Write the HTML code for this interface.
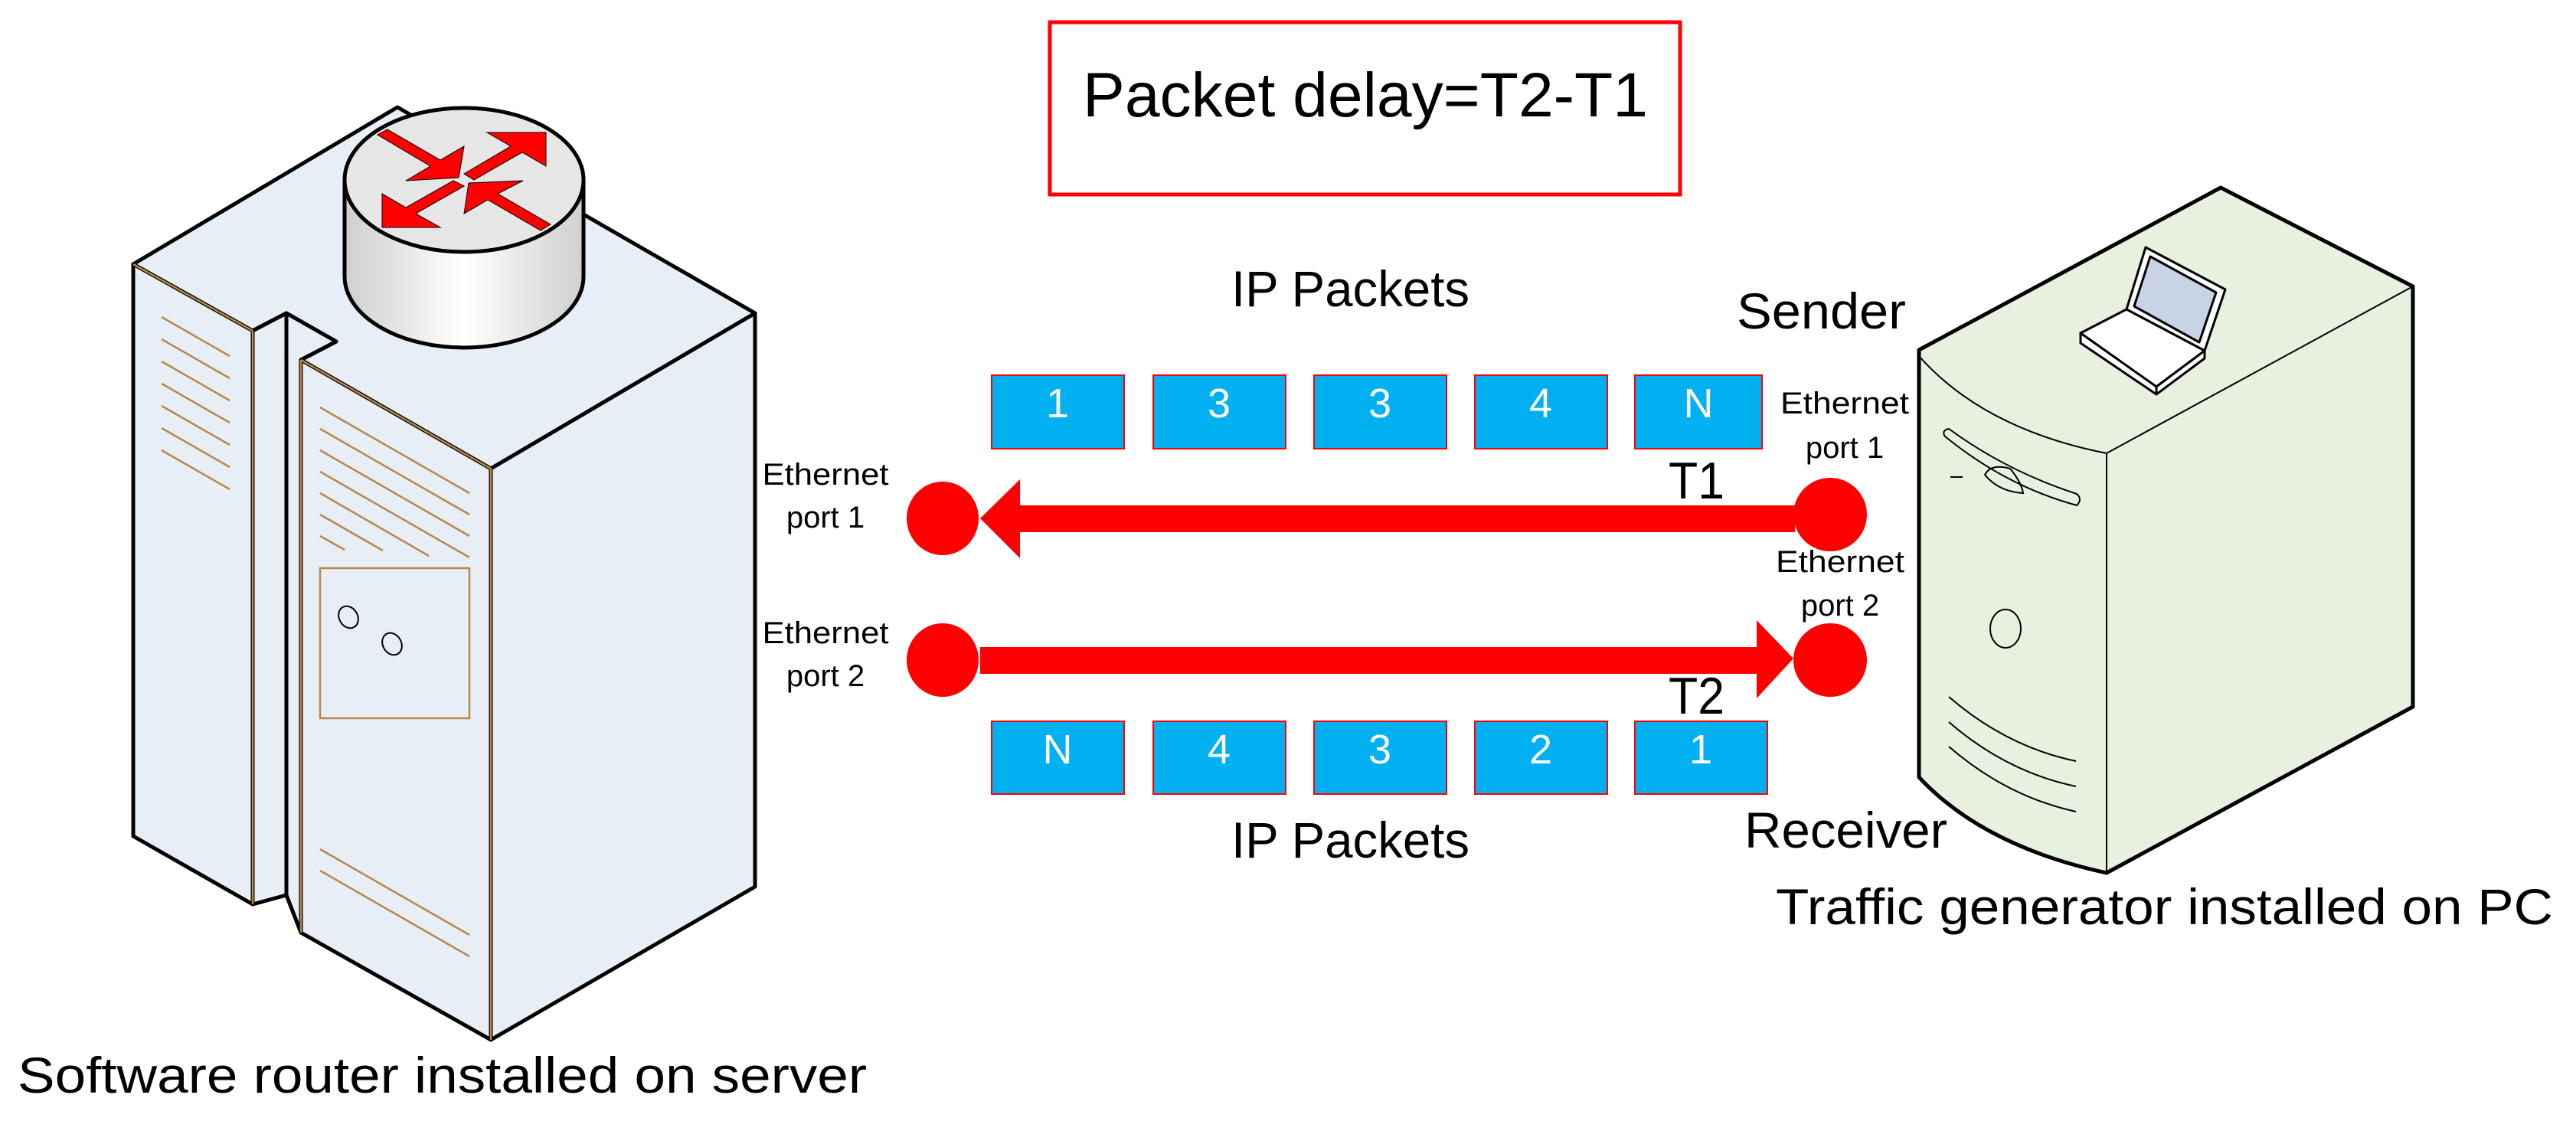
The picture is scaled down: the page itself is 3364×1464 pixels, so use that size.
<!DOCTYPE html>
<html><head><meta charset="utf-8"><style>html,body{margin:0;padding:0;background:#fff}svg{display:block}text{font-family:"Liberation Sans",sans-serif}</style></head><body>
<svg width="3364" height="1464" viewBox="0 0 3364 1464" xmlns="http://www.w3.org/2000/svg">
<defs>
<linearGradient id="cyl" x1="0" x2="1" y1="0" y2="0"><stop offset="0" stop-color="#cfcfcf"/><stop offset="0.5" stop-color="#ffffff"/><stop offset="1" stop-color="#cfcfcf"/></linearGradient>
</defs>
<!-- Server -->
<g stroke="#000" stroke-width="5" stroke-linejoin="round" fill="#e8eef6">
<polygon points="174,345 519,140 986,409 641,612 393,470 439,446 374,409 330,432"/>
<polygon points="174,345 330,432 330,1181 174,1092"/>
<polygon points="330,432 374,409 374,1169 330,1181"/>
<polygon points="374,409 439,446 393,470 393,1218 374,1169"/>
<polygon points="393,470 641,612 641,1358 393,1218"/>
<polygon points="641,612 986,409 986,1158 641,1358"/>
</g>
<g stroke="#b8884a" stroke-width="2.5" fill="none">
<line x1="330" y1="432" x2="330" y2="1181"/><line x1="393" y1="470" x2="393" y2="1218"/><line x1="641" y1="612" x2="641" y2="1358"/>
<line x1="174" y1="345" x2="330" y2="432"/><line x1="393" y1="470" x2="641" y2="612"/>
<line x1="211" y1="414" x2="300" y2="465"/><line x1="211" y1="443" x2="300" y2="494"/><line x1="211" y1="472" x2="300" y2="523"/><line x1="211" y1="501" x2="300" y2="552"/><line x1="211" y1="530" x2="300" y2="581"/><line x1="211" y1="559" x2="300" y2="610"/><line x1="211" y1="588" x2="300" y2="639"/>
<line x1="418" y1="532" x2="613" y2="644"/><line x1="418" y1="560" x2="613" y2="672"/><line x1="418" y1="588" x2="613" y2="700"/><line x1="418" y1="616" x2="613" y2="728"/><line x1="418" y1="644" x2="560" y2="726"/><line x1="418" y1="672" x2="500" y2="719"/><line x1="418" y1="700" x2="450" y2="718"/>
<rect x="418" y="742" width="195" height="196"/>
<line x1="418" y1="1109" x2="613" y2="1221"/><line x1="418" y1="1137" x2="613" y2="1249"/>
</g>
<ellipse cx="455" cy="806" rx="12" ry="15" transform="rotate(-30 455 806)" fill="none" stroke="#000" stroke-width="2"/>
<ellipse cx="512" cy="841" rx="12" ry="15" transform="rotate(-30 512 841)" fill="none" stroke="#000" stroke-width="2"/>
<!-- Router cylinder -->
<path d="M450,235 L450,361 A156,93 0 0 0 762,361 L762,235 Z" fill="url(#cyl)" stroke="#000" stroke-width="5"/>
<ellipse cx="606" cy="235" rx="156" ry="94" fill="#e6e6e6" stroke="#000" stroke-width="5"/>
<g fill="#ff0000" stroke="#000" stroke-width="1">
<polygon points="506,169 575,209 606,191 599,232 530,236 562,217 493,176"/>
<polygon points="606,227 667,191 636,173 713,173 713,217 682,199 619,235"/>
<polygon points="592,236 606,243 543,279 575,297 499,297 499,253 530,271"/>
<polygon points="719,293 650,253 683,236 612,239 606,279 637,261 706,301"/>
</g>
<!-- Title box -->
<rect x="1371" y="29" width="823" height="225" fill="#fff" stroke="#ff0000" stroke-width="5"/>
<text x="1414" y="152" font-size="82" textLength="738" lengthAdjust="spacingAndGlyphs">Packet delay=T2-T1</text>
<text x="1608" y="400" font-size="66" textLength="311" lengthAdjust="spacingAndGlyphs">IP Packets</text>
<text x="1608" y="1120" font-size="66" textLength="311" lengthAdjust="spacingAndGlyphs">IP Packets</text>
<text x="2268" y="429" font-size="66" textLength="221" lengthAdjust="spacingAndGlyphs">Sender</text>
<text x="2278" y="1107" font-size="66" textLength="265" lengthAdjust="spacingAndGlyphs">Receiver</text>
<text x="2179" y="651" font-size="68" textLength="73" lengthAdjust="spacingAndGlyphs">T1</text>
<text x="2179" y="932" font-size="68" textLength="73" lengthAdjust="spacingAndGlyphs">T2</text>
<!-- packets -->
<g fill="#00b0f0" stroke="#ff0000" stroke-width="2">
<rect x="1295" y="490" width="173" height="96"/><rect x="1506" y="490" width="173" height="96"/><rect x="1716" y="490" width="173" height="96"/><rect x="1926" y="490" width="173" height="96"/><rect x="2135" y="490" width="166" height="96"/>
<rect x="1295" y="942" width="173" height="95"/><rect x="1506" y="942" width="173" height="95"/><rect x="1716" y="942" width="173" height="95"/><rect x="1926" y="942" width="173" height="95"/><rect x="2135" y="942" width="173" height="95"/>
</g>
<g fill="#fff" font-size="54" text-anchor="middle">
<text x="1381" y="545">1</text><text x="1592" y="545">3</text><text x="1802" y="545">3</text><text x="2012" y="545">4</text><text x="2218" y="545">N</text>
<text x="1381" y="997">N</text><text x="1592" y="997">4</text><text x="1802" y="997">3</text><text x="2012" y="997">2</text><text x="2221" y="997">1</text>
</g>
<!-- arrows -->
<g fill="#ff0000">
<ellipse cx="1231" cy="677" rx="47" ry="48"/><ellipse cx="2390" cy="672" rx="48" ry="48"/>
<ellipse cx="1231" cy="862" rx="47" ry="48"/><ellipse cx="2390" cy="862" rx="48" ry="48"/>
<polygon points="1280,677 1332,626 1332,660 2344,660 2344,695 1332,695 1332,729"/>
<polygon points="1280,845 2294,845 2294,810 2342,860 2294,912 2294,880 1280,880"/>
</g>
<!-- ethernet labels -->
<g font-size="40" text-anchor="middle">
<text x="1078" y="633" textLength="165" lengthAdjust="spacingAndGlyphs">Ethernet</text><text x="1078" y="689">port 1</text>
<text x="1078" y="840" textLength="165" lengthAdjust="spacingAndGlyphs">Ethernet</text><text x="1078" y="896">port 2</text>
<text x="2409" y="540" textLength="168" lengthAdjust="spacingAndGlyphs">Ethernet</text><text x="2409" y="598">port 1</text>
<text x="2403" y="747" textLength="168" lengthAdjust="spacingAndGlyphs">Ethernet</text><text x="2403" y="804">port 2</text>
</g>
<!-- PC -->
<g stroke="#000" stroke-width="5" stroke-linejoin="round" fill="#e8f0df">
<path d="M2506,457 L2900,245 L3151,374 L3151,923 L2751,1140 Q2590,1105 2506,1015 Z"/>
</g>
<g stroke="#000" stroke-width="2" fill="none">
<path d="M2506,465 Q2590,560 2751,592 L3151,374"/>
<line x1="2751" y1="592" x2="2751" y2="1140"/>
<path d="M2540,570 Q2620,635 2712,660 Q2720,652 2712,645 Q2620,615 2545,560 Q2535,562 2540,570 Z"/>
<path d="M2592,620 Q2600,605 2625,612 Q2640,630 2642,644 Q2610,642 2592,620 Z"/>
<line x1="2547" y1="623" x2="2563" y2="623"/>
<ellipse cx="2619" cy="821" rx="20" ry="25"/>
<path d="M2545,910 Q2620,975 2711,994"/><path d="M2545,943 Q2620,1008 2711,1027"/><path d="M2545,975 Q2620,1040 2711,1060"/>
</g>
<!-- laptop -->
<g stroke="#000" stroke-width="3" stroke-linejoin="round">
<polygon points="2802,323 2906,378 2879,458 2777,404" fill="#fff"/>
<polygon points="2808,335 2894,382 2872,447 2787,400" fill="#c9d3e6"/>
<polygon points="2717,435 2777,404 2879,458 2816,505" fill="#fff"/>
<polygon points="2717,435 2816,505 2816,515 2717,448" fill="#fff"/>
<polygon points="2816,505 2879,458 2879,468 2816,515" fill="#fff"/>
</g>
<!-- bottom labels -->
<text x="23" y="1427" font-size="66" textLength="1109" lengthAdjust="spacingAndGlyphs">Software router installed on server</text>
<text x="2319" y="1207" font-size="66" textLength="1015" lengthAdjust="spacingAndGlyphs">Traffic generator installed on PC</text>
</svg>
</body></html>
